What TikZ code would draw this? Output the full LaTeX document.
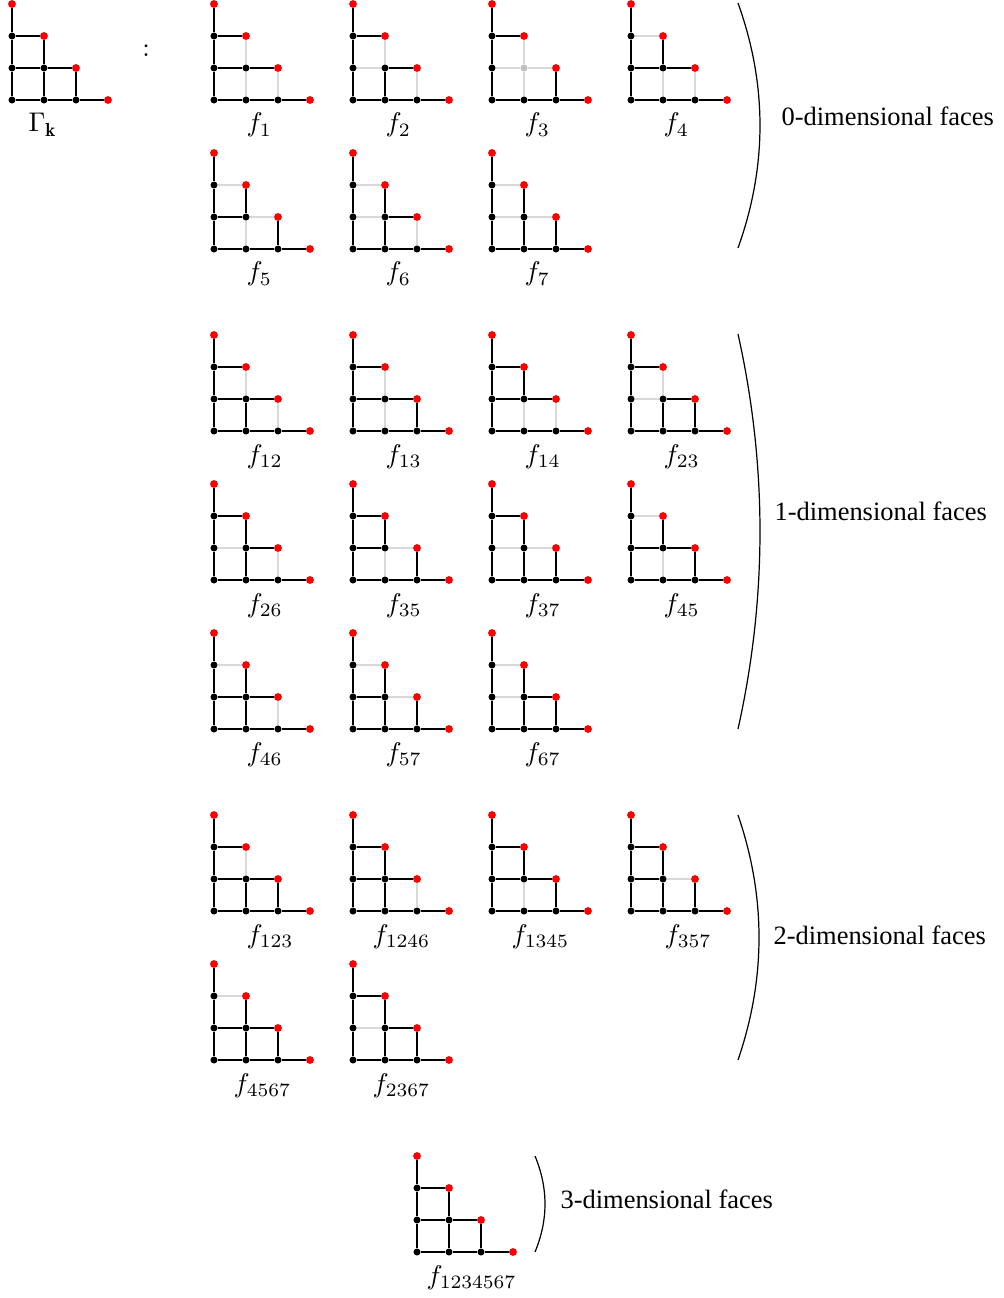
\documentclass[tikz,border=0pt]{standalone}
\usepackage{fontspec}
\newfontfamily\tfont{Liberation Serif}
\tikzset{
  bv/.style={circle, fill=black, inner sep=0pt, minimum size=2.6pt},
  rv/.style={circle, fill=red, inner sep=0pt, minimum size=2.9pt},
  gv/.style={circle, fill=gray!50, inner sep=0pt, minimum size=2.6pt},
  cv/.style={bv},
  bk/.style={line width=0.95pt, black},
  lf/.style={line width=0.65pt, black},
  gy/.style={line width=0.6pt, gray!30},
  lab/.style={inner sep=0pt, anchor=base west},
  dimtxt/.style={inner sep=0pt, anchor=base west, font=\fontsize{9.8}{12}\tfont},
  brk/.style={line width=0.45pt, black},
}
% #1 name, #2 x, #3 y (bottom-left corner), #4 H1, #5 H2, #6 H3, #7 V1, #8 V2, #9 V3
\newcommand{\facegr}[9]{%
  \begin{scope}[shift={(#2,#3)}, name prefix=#1-]
    \node[bv] (v00) at (0,0) {};
    \node[bv] (v10) at (32,0) {};
    \node[bv] (v20) at (64,0) {};
    \node[rv] (v30) at (96,0) {};
    \node[bv] (v01) at (0,-32) {};
    \node[cv] (v11) at (32,-32) {};
    \node[rv] (v21) at (64,-32) {};
    \node[bv] (v02) at (0,-64) {};
    \node[rv] (v12) at (32,-64) {};
    \node[rv] (v03) at (0,-96) {};
    \draw[bk] (v00) -- (v10);
    \draw[bk] (v10) -- (v20);
    \draw[lf] (v20) -- (v30);
    \draw[bk] (v00) -- (v01);
    \draw[bk] (v01) -- (v02);
    \draw[lf] (v02) -- (v03);
    \draw[#4] (v01) -- (v11);
    \draw[#5] (v11) -- (v21);
    \draw[#6] (v02) -- (v12);
    \draw[#7] (v10) -- (v11);
    \draw[#8] (v11) -- (v12);
    \draw[#9] (v20) -- (v21);
  \end{scope}}
\begin{document}
\begin{tikzpicture}[x=0.37037pt, y=-0.37037pt]
\useasboundingbox (0,0) rectangle (1003,1298);

% Gamma_k
\facegr{G}{12}{100}{bk}{bk}{bk}{bk}{bk}{bk}
\node[lab] (G-lab) at (28,132) {$\Gamma_{\mathbf{k}}$};
\node[inner sep=0pt, anchor=base] (colon) at (146,57) {:};

% 0-dimensional faces
\facegr{f1}{214}{100}{bk}{bk}{bk}{gy}{gy}{gy}
\facegr{f2}{353}{100}{gy}{bk}{bk}{bk}{gy}{gy}
\begin{scope}[cv/.style={gv}]
\facegr{f3}{492}{100}{gy}{gy}{bk}{gy}{gy}{bk}
\end{scope}
\facegr{f4}{631}{100}{bk}{bk}{gy}{gy}{bk}{gy}
\facegr{f5}{214}{249}{bk}{gy}{gy}{gy}{bk}{bk}
\facegr{f6}{353}{249}{gy}{bk}{gy}{bk}{bk}{gy}
\facegr{f7}{492}{249}{gy}{gy}{gy}{bk}{bk}{bk}
\node[lab] (f1-lab) at (246,132) {$f_1$};
\node[lab] (f2-lab) at (385,132) {$f_2$};
\node[lab] (f3-lab) at (524,132) {$f_3$};
\node[lab] (f4-lab) at (663,132) {$f_4$};
\node[lab] (f5-lab) at (246,281) {$f_5$};
\node[lab] (f6-lab) at (385,281) {$f_6$};
\node[lab] (f7-lab) at (524,281) {$f_7$};

% 1-dimensional faces
\facegr{f12}{214}{431}{bk}{bk}{bk}{bk}{gy}{gy}
\facegr{f13}{353}{431}{bk}{bk}{bk}{gy}{gy}{bk}
\facegr{f14}{492}{431}{bk}{bk}{bk}{gy}{bk}{gy}
\facegr{f23}{631}{431}{gy}{bk}{bk}{bk}{gy}{bk}
\facegr{f26}{214}{580}{gy}{bk}{bk}{bk}{bk}{gy}
\facegr{f35}{353}{580}{bk}{gy}{bk}{gy}{bk}{bk}
\facegr{f37}{492}{580}{gy}{gy}{bk}{bk}{bk}{bk}
\facegr{f45}{631}{580}{bk}{bk}{gy}{gy}{bk}{bk}
\facegr{f46}{214}{729}{bk}{bk}{gy}{bk}{bk}{gy}
\facegr{f57}{353}{729}{bk}{gy}{gy}{bk}{bk}{bk}
\facegr{f67}{492}{729}{gy}{bk}{gy}{bk}{bk}{bk}
\node[lab] (f12-lab) at (246,463) {$f_{12}$};
\node[lab] (f13-lab) at (385,463) {$f_{13}$};
\node[lab] (f14-lab) at (524,463) {$f_{14}$};
\node[lab] (f23-lab) at (663,463) {$f_{23}$};
\node[lab] (f26-lab) at (246,612) {$f_{26}$};
\node[lab] (f35-lab) at (385,612) {$f_{35}$};
\node[lab] (f37-lab) at (524,612) {$f_{37}$};
\node[lab] (f45-lab) at (663,612) {$f_{45}$};
\node[lab] (f46-lab) at (246,761) {$f_{46}$};
\node[lab] (f57-lab) at (385,761) {$f_{57}$};
\node[lab] (f67-lab) at (524,761) {$f_{67}$};

% 2-dimensional faces
\facegr{f123}{214}{911}{bk}{bk}{bk}{bk}{gy}{bk}
\facegr{f1246}{353}{911}{bk}{bk}{bk}{bk}{bk}{gy}
\facegr{f1345}{492}{911}{bk}{bk}{bk}{gy}{bk}{bk}
\facegr{f357}{631}{911}{bk}{gy}{bk}{bk}{bk}{bk}
\facegr{f4567}{214}{1060}{bk}{bk}{gy}{bk}{bk}{bk}
\facegr{f2367}{353}{1060}{gy}{bk}{bk}{bk}{bk}{bk}
\node[lab] (f123-lab) at (246,943) {$f_{123}$};
\node[lab] (f1246-lab) at (372,943) {$f_{1246}$};
\node[lab] (f1345-lab) at (511,943) {$f_{1345}$};
\node[lab] (f357-lab) at (664,943) {$f_{357}$};
\node[lab] (f4567-lab) at (233,1092) {$f_{4567}$};
\node[lab] (f2367-lab) at (372,1092) {$f_{2367}$};

% 3-dimensional faces
\facegr{f1234567}{417}{1252}{bk}{bk}{bk}{bk}{bk}{bk}
\node[lab] (f1234567-lab) at (426,1284) {$f_{1234567}$};

% brackets
\draw[brk] (738,3) .. controls (767.3,84.7) and (767.3,166.3) .. (738,248);
\draw[brk] (738,334) .. controls (767.3,465.7) and (767.3,597.3) .. (738,729);
\draw[brk] (738,815) .. controls (766,896.7) and (766,978.3) .. (738,1060);
\draw[brk] (535,1156) .. controls (548.3,1188) and (548.3,1220) .. (535,1252);

\node[dimtxt] (d0) at (781,126) {0-dimensional faces};
\node[dimtxt] (d1) at (774,520) {1-dimensional faces};
\node[dimtxt] (d2) at (773,944) {2-dimensional faces};
\node[dimtxt] (d3) at (560,1208) {3-dimensional faces};
\end{tikzpicture}
\end{document}
